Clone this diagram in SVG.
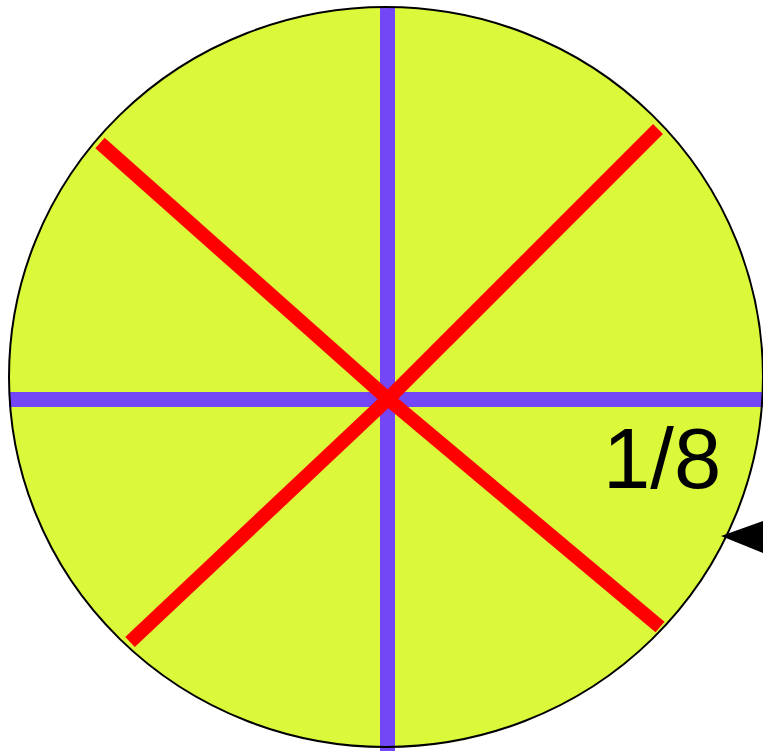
<svg xmlns="http://www.w3.org/2000/svg" width="763" height="751" viewBox="0 0 763 751">
<style>
.purple{stroke:#7346f6;stroke-width:15;stroke-linecap:butt;fill:none}
.red{stroke:#ff0000;stroke-width:14;stroke-linecap:butt;fill:none}
.outline{fill:none;stroke:#000;stroke-width:2}
.lbl{font-family:"Liberation Sans",Arial,sans-serif;font-size:85px;fill:#000}
</style>
<rect width="763" height="751" fill="#fff"/>
<g id="disc">
<ellipse cx="386" cy="377" rx="377" ry="370" fill="#dbf93a"/>
</g>
<g id="connectors">
<line class="purple" x1="387.5" y1="7" x2="387.5" y2="751"/>
<line class="purple" x1="9" y1="399.5" x2="763" y2="399.5"/>
<line class="red" x1="388" y1="399" x2="100" y2="143"/>
<line class="red" x1="388" y1="399" x2="658" y2="129"/>
<line class="red" x1="388" y1="399" x2="130" y2="642"/>
<line class="red" x1="388" y1="399" x2="660" y2="627"/>
<polygon points="721,536 763,521 763,553" fill="#000"/>
</g>
<g id="outline">
<ellipse class="outline" cx="386" cy="377" rx="377" ry="370"/>
</g>
<g id="label">
<text class="lbl" x="603" y="488">1/8</text>
</g>
</svg>
